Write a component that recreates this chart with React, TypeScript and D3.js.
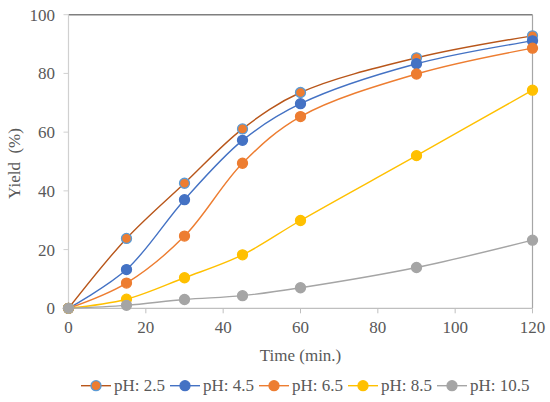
import * as d3 from 'd3';
import { useEffect, useRef } from 'react';

const times = [0, 15, 30, 45, 60, 90, 120];
const seriesNames = ['pH: 2.5', 'pH: 4.5', 'pH: 6.5', 'pH: 8.5', 'pH: 10.5'];
const yieldPh25 = [0, 23.8, 42.6, 61.1, 73.5, 85.3, 92.8];
const yieldPh45 = [0, 13.2, 37, 57.2, 69.7, 83.3, 91.1];
const yieldPh65 = [0, 8.6, 24.6, 49.4, 65.3, 79.8, 88.6];
const yieldPh85 = [0, 3.1, 10.4, 18.2, 29.9, 52, 74.3];
const yieldPh105 = [0, 1, 3, 4.3, 7, 13.9, 23.2];
const xTicks = [0, 20, 40, 60, 80, 100, 120];
const yTicks = [0, 20, 40, 60, 80, 100];

const lineColors = ['#B8561A', '#4472C4', '#ED7D31', '#FFC000', '#A5A5A5'];
const markerFills = ['#ED7D31', '#4472C4', '#ED7D31', '#FFC000', '#A5A5A5'];
const markerStrokes = ['#5B9BD5', '#4472C4', '#ED7D31', '#FFC000', '#A5A5A5'];

const width = 550;
const height = 402;
const textColor = '#595959';

export default function App() {
    const svgRef = useRef<SVGSVGElement>(null);

    useEffect(() => {
        const svg = d3.select(svgRef.current);
        svg.selectAll('*').remove();

        const allValues = [yieldPh25, yieldPh45, yieldPh65, yieldPh85, yieldPh105];
        const xScale = d3.scaleLinear().domain([0, 120]).range([68.5, 532.5]);
        const yScale = d3.scaleLinear().domain([0, 100]).range([308.3, 14.7]);

        const label = (sel: d3.Selection<SVGTextElement, any, any, any>) =>
            sel.style('font-family', 'Liberation Serif').style('font-size', '17px').attr('fill', textColor);

        // frame
        svg.append('line').attr('x1', xScale(0)).attr('x2', xScale(120)).attr('y1', yScale(100)).attr('y2', yScale(100))
            .attr('stroke', '#7F7F7F').attr('stroke-width', 1.5);
        svg.append('line').attr('x1', xScale(120)).attr('x2', xScale(120)).attr('y1', yScale(100)).attr('y2', yScale(0))
            .attr('stroke', '#A6A6A6').attr('stroke-width', 1.2);
        svg.append('line').attr('x1', xScale(0)).attr('x2', xScale(0)).attr('y1', yScale(100)).attr('y2', yScale(0))
            .attr('stroke', '#D0D0D0').attr('stroke-width', 1.2);
        svg.append('line').attr('x1', xScale(0)).attr('x2', xScale(120)).attr('y1', yScale(0)).attr('y2', yScale(0))
            .attr('stroke', '#BFBFBF').attr('stroke-width', 1.2);

        const yt = svg.selectAll('.ytick').data(yTicks).enter().append('g')
            .attr('transform', (d) => `translate(0, ${yScale(d)})`);
        yt.append('line').attr('x1', xScale(0) - 5).attr('x2', xScale(0)).attr('stroke', '#D0D0D0');
        yt.append('text').attr('x', 55).attr('dy', '0.35em').attr('text-anchor', 'end').text((d) => d).call(label);

        const xt = svg.selectAll('.xtick').data(xTicks).enter().append('g')
            .attr('transform', (d) => `translate(${xScale(d)}, 0)`);
        xt.append('line').attr('y1', yScale(0)).attr('y2', yScale(0) + 5).attr('stroke', '#BFBFBF');
        xt.append('text').attr('y', 333).attr('text-anchor', 'middle').text((d) => d).call(label);

        svg.append('text').attr('x', xScale(60)).attr('y', 361).attr('text-anchor', 'middle').text('Time (min.)').call(label);
        svg.append('text')
            .attr('transform', `translate(19.5, ${(yScale(0) + yScale(100)) / 2 + 2}) rotate(-90)`)
            .attr('text-anchor', 'middle')
            .style('white-space', 'pre')
            .text('Yield  (%)')
            .call(label);

        const line = d3
            .line<[number, number]>()
            .x((d) => xScale(d[0]))
            .y((d) => yScale(d[1]))
            .curve(d3.curveCatmullRom.alpha(0.5));

        allValues.forEach((vals, i) => {
            const pts = times.map((t, j) => [t, vals[j]] as [number, number]);
            const g = svg.append('g');
            g.append('path').attr('d', line(pts) ?? '').attr('fill', 'none')
                .attr('stroke', lineColors[i]).attr('stroke-width', 1.4);
            g.selectAll('circle').data(pts).enter().append('circle')
                .attr('cx', (d) => xScale(d[0]))
                .attr('cy', (d) => yScale(d[1]))
                .attr('r', 5)
                .attr('fill', markerFills[i])
                .attr('stroke', markerStrokes[i])
                .attr('stroke-width', 1.3);
        });

        // legend
        const lg = svg.selectAll('.legend').data(seriesNames).enter().append('g')
            .attr('transform', (_d, i) => `translate(${81 + i * 89}, 385.7)`);
        lg.append('line').attr('x1', 0).attr('x2', 30).attr('stroke', (_d, i) => lineColors[i]).attr('stroke-width', 1.4);
        lg.append('circle').attr('cx', 15).attr('r', 5)
            .attr('fill', (_d, i) => markerFills[i])
            .attr('stroke', (_d, i) => markerStrokes[i])
            .attr('stroke-width', 1.3);
        lg.append('text').attr('x', 33).attr('y', 5.5).text((d) => d).call(label);
    }, []);

    return (
        <svg
            ref={svgRef}
            width={width}
            height={height}
            style={{ position: 'absolute', left: 0, top: 0, background: '#fff' }}
        />
    );
}
